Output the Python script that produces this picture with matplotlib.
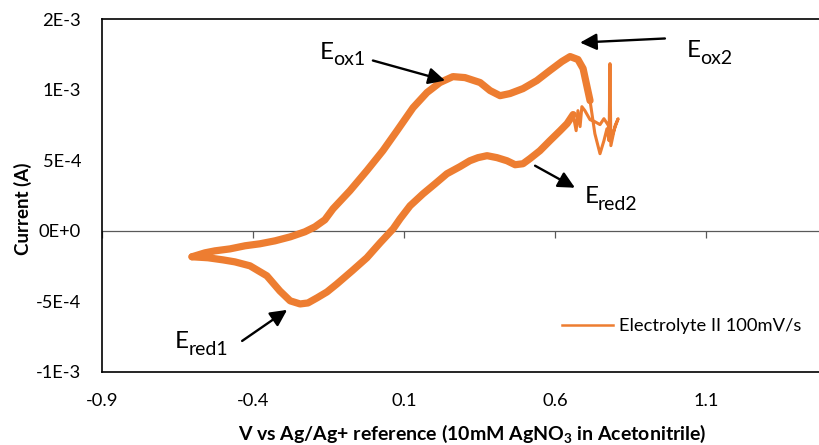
"""
plot.py - cyclic voltammogram of Electrolyte II at 100 mV/s
"""

import matplotlib
matplotlib.use("Agg")
import matplotlib.pyplot as plt
import matplotlib.ticker as mticker
import numpy as np

plt.rcParams["font.family"] = ["Lato", "DejaVu Sans"]
plt.rcParams["mathtext.fontset"] = "custom"
plt.rcParams["mathtext.rm"] = "Lato"
plt.rcParams["mathtext.bf"] = "Lato:bold"

# ------------------------------------------------------------------ #
# data
# ------------------------------------------------------------------ #
# anodic sweep, vertex noise, then cathodic sweep back to the start
potential_V = [
    -0.602, -0.559, -0.526, -0.476, -0.426, -0.377, -0.327, -0.277, -0.228, -0.195,
    -0.162, -0.135, -0.079, -0.023, 0.030, 0.077, 0.130, 0.176, 0.219, 0.262,
    0.302, 0.352, 0.385, 0.418, 0.451, 0.494, 0.540, 0.583, 0.623, 0.650,
    0.676, 0.693, 0.716, 0.732, 0.749, 0.762, 0.772, 0.779, 0.782, 0.785,
    0.799, 0.809, 0.789, 0.775, 0.762, 0.749, 0.732, 0.716, 0.699, 0.689,
    0.683, 0.676, 0.670, 0.660, 0.640, 0.617, 0.583, 0.550, 0.517, 0.494,
    0.468, 0.441, 0.408, 0.375, 0.345, 0.318, 0.285, 0.242, 0.203, 0.163,
    0.120, 0.087, 0.064, 0.021, -0.023, -0.072, -0.122, -0.155, -0.188, -0.218,
    -0.244, -0.277, -0.311, -0.354, -0.410, -0.460, -0.499, -0.549, -0.602,
]
current_mA = [
    -0.184, -0.156, -0.142, -0.128, -0.106, -0.092, -0.071, -0.043, -0.007, 0.028,
    0.078, 0.156, 0.284, 0.426, 0.567, 0.709, 0.872, 0.979, 1.050, 1.092,
    1.085, 1.050, 0.993, 0.957, 0.972, 1.007, 1.064, 1.135, 1.199, 1.234,
    1.213, 1.149, 0.922, 0.688, 0.546, 0.638, 0.723, 0.638, 1.184, 0.603,
    0.745, 0.794, 0.674, 0.752, 0.794, 0.752, 0.773, 0.787, 0.851, 0.879,
    0.738, 0.851, 0.709, 0.823, 0.759, 0.709, 0.638, 0.567, 0.511, 0.475,
    0.468, 0.496, 0.518, 0.532, 0.518, 0.496, 0.454, 0.404, 0.333, 0.262,
    0.177, 0.085, 0.014, -0.085, -0.191, -0.284, -0.376, -0.433, -0.475, -0.511,
    -0.518, -0.496, -0.426, -0.319, -0.248, -0.220, -0.206, -0.191, -0.184,
]
# index range of the thin, noisy section around the anodic vertex
VERTEX = (32, 53)

x_ticks = [-0.9, -0.4, 0.1, 0.6, 1.1]
x_tick_labels = ["-0.9", "-0.4", "0.1", "0.6", "1.1"]
y_ticks = [-1e-3, -5e-4, 0, 5e-4, 1e-3, 1.5e-3]
y_tick_labels = ["-1E-3", "-5E-4", "0E+0", "5E-4", "1E-3", "2E-3"]

# peak labels: subscript, text anchor, arrow tail, arrow tip (data coords)
peak_subs = ["ox1", "ox2", "red1", "red2"]
peak_text = [(-0.178, 1.22e-3), (1.037, 1.234e-3), (-0.658, -0.83e-3), (0.699, 0.199e-3)]
peak_tail = [(-0.003, 1.206e-3), (0.964, 1.362e-3), (-0.436, -0.78e-3), (0.534, 0.461e-3)]
peak_tip = [(0.236, 1.064e-3), (0.683, 1.333e-3), (-0.287, -0.56e-3), (0.666, 0.305e-3)]

ORANGE = "#ED7D31"
GREY = "#595959"
FS = 13.2

# ------------------------------------------------------------------ #
# figure
# ------------------------------------------------------------------ #
fig = plt.figure(figsize=(8.19, 4.45), dpi=100)
# plot area runs past the right edge of the picture, as in the reference
ax = fig.add_axes([102 / 819, 73 / 445, 755 / 819, 353 / 445])

xlim = (-0.9, 1.6)
ylim = (-1e-3, 1.5e-3)
ax.set_xlim(*xlim)
ax.set_ylim(*ylim)

V = np.array(potential_V)
I = np.array(current_mA) * 1e-3
a, b = VERTEX
thick = dict(color=ORANGE, lw=5.2, solid_joinstyle="round",
             solid_capstyle="round", zorder=3)
ax.plot(V[:a + 1], I[:a + 1], **thick)
ax.plot(V[a:b + 1], I[a:b + 1], color=ORANGE, lw=2.2, solid_joinstyle="round",
        zorder=3)
ax.plot(V[b:], I[b:], **thick)
# legend entry uses the thin Excel-style stroke
ax.plot([], [], color=ORANGE, lw=1.8, label="Electrolyte II 100mV/s")

# frame
for side in ["left", "bottom", "top"]:
    ax.spines[side].set_color("black")
    ax.spines[side].set_linewidth(1.2)
ax.spines["right"].set_visible(False)

# tick labels sit on the frame, tick marks sit on the zero line
ax.set_xticks(x_ticks, x_tick_labels)
ax.set_yticks(y_ticks, y_tick_labels)
ax.tick_params(axis="both", length=0, pad=15, labelsize=FS, colors="black")

zero_frac = (0 - ylim[0]) / (ylim[1] - ylim[0])
sec = ax.secondary_xaxis(zero_frac)
sec.set_xticks(x_ticks)
sec.xaxis.set_major_formatter(mticker.NullFormatter())
sec.tick_params(axis="x", length=5, width=0.9, direction="out", color=GREY)
sec.spines["bottom"].set_color(GREY)
sec.spines["bottom"].set_linewidth(0.9)

# axis titles
fig.text(472 / 819, 1 - 440 / 445,
         r"V vs Ag/Ag+ reference (10mM AgNO$_\mathbf{3}$ in Acetonitrile)",
         ha="center", va="baseline", fontsize=14, fontweight="bold")
fig.text(23 / 819, 1 - 209 / 445, "Current (A)", rotation=90,
         ha="center", va="center", fontsize=13.5, fontweight="bold")

# peak annotations
for sub, txt, tail, tip in zip(peak_subs, peak_text, peak_tail, peak_tip):
    ax.annotate("", xy=tip, xytext=tail,
                arrowprops=dict(arrowstyle="-|>,head_length=1.0,head_width=0.5",
                                color="black", lw=1.7, shrinkA=0, shrinkB=0))
    ax.text(txt[0], txt[1], "E", fontsize=17.5, ha="left", va="baseline")
    ax.annotate(sub, xy=txt, xytext=(9.4, -5), textcoords="offset points",
                fontsize=14, ha="left", va="baseline")

ax.legend(loc="center left", bbox_to_anchor=(562 / 819, 1 - 326 / 445),
          bbox_transform=fig.transFigure, frameon=False, borderpad=0,
          borderaxespad=0, handlelength=2.8, handletextpad=0.3, fontsize=FS)

fig.savefig("out.png", dpi=100)
